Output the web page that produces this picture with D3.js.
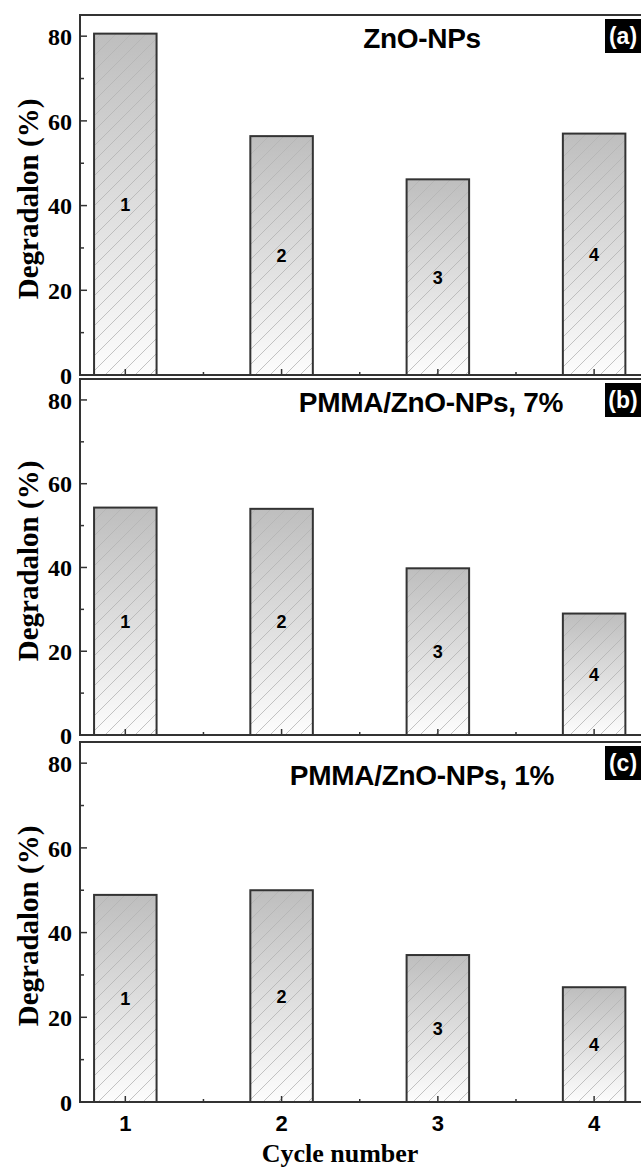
<!DOCTYPE html>
<html>
<head>
<meta charset="utf-8">
<script src="https://cdn.jsdelivr.net/npm/d3@7"></script>
<style>
  body { margin: 0; background: #fff; }
  svg { display: block; }
</style>
</head>
<body>
<svg id="chart" width="641" height="1168"></svg>
<script>
// values
const cycles = [1, 2, 3, 4];
const panelTitles = ["ZnO-NPs", "PMMA/ZnO-NPs, 7%", "PMMA/ZnO-NPs, 1%"];
const panelTags = ["(a)", "(b)", "(c)"];
const degradationA = [80.6, 56.4, 46.2, 57.0];
const degradationB = [54.3, 54.0, 39.8, 29.0];
const degradationC = [48.9, 50.0, 34.7, 27.1];
const yTicks = [0, 20, 40, 60, 80];
const yMinorTicks = [10, 30, 50, 70];
const xMinorTicks = [1.5, 2.5, 3.5];

const series = [degradationA, degradationB, degradationC];

// panel boxes (top of frame, zero line)
const panels = [
    { top: 15, bottom: 375, titleX: 422, titleY: 48 },
    { top: 379, bottom: 735, titleX: 431, titleY: 412 },
    { top: 742, bottom: 1102, titleX: 422, titleY: 785 }
];

const left = 80, right = 641;
const serif = "'Liberation Serif', 'Times New Roman', serif";
const sans = "'Liberation Sans', Arial, sans-serif";

const svg = d3.select("#chart");

const xScale = d3.scaleLinear()
    .domain([0.71, 4.3])
    .range([left, right]);

const barW = xScale(1.2) - xScale(0.8);

const defs = svg.append("defs");

const grad = defs.append("linearGradient")
    .attr("id", "barGrad")
    .attr("x1", 0).attr("y1", 0)
    .attr("x2", 0).attr("y2", 1);
grad.append("stop").attr("offset", "0%").attr("stop-color", "#bebebe");
grad.append("stop").attr("offset", "100%").attr("stop-color", "#fdfdfd");

const hatch = defs.append("pattern")
    .attr("id", "hatch")
    .attr("patternUnits", "userSpaceOnUse")
    .attr("width", 15)
    .attr("height", 15);
hatch.append("path")
    .attr("d", "M-2,17 L17,-2 M-5,5 L5,-5 M10,20 L20,10")
    .attr("stroke", "#b4b4b4")
    .attr("stroke-width", 0.8)
    .attr("fill", "none");

panels.forEach(function (p, i) {
    const data = series[i];

    const yScale = d3.scaleLinear()
        .domain([0, 85])
        .range([p.bottom, p.top]);

    const g = svg.append("g").attr("class", "panel");

    // frame
    g.append("path")
        .attr("d", "M" + right + "," + p.top + " L" + left + "," + p.top +
            " L" + left + "," + p.bottom + " L" + right + "," + p.bottom)
        .attr("fill", "none")
        .attr("stroke", "#333")
        .attr("stroke-width", 2);

    // bars
    const bars = g.selectAll(".bar")
        .data(data)
        .enter()
        .append("g")
        .attr("class", "bar");

    bars.append("rect")
        .attr("x", (d, j) => xScale(cycles[j]) - barW / 2)
        .attr("y", d => yScale(d))
        .attr("width", barW)
        .attr("height", d => yScale(0) - yScale(d))
        .attr("fill", "url(#barGrad)");

    bars.append("rect")
        .attr("x", (d, j) => xScale(cycles[j]) - barW / 2)
        .attr("y", d => yScale(d))
        .attr("width", barW)
        .attr("height", d => yScale(0) - yScale(d))
        .attr("fill", "url(#hatch)")
        .attr("stroke", "#333")
        .attr("stroke-width", 2);

    bars.append("text")
        .attr("x", (d, j) => xScale(cycles[j]))
        .attr("y", d => yScale(d / 2))
        .attr("dy", "0.36em")
        .attr("text-anchor", "middle")
        .style("font-family", sans)
        .style("font-weight", "bold")
        .style("font-size", "18px")
        .text((d, j) => cycles[j]);

    // y ticks, inward
    g.selectAll(".ymaj")
        .data(yTicks)
        .enter()
        .append("line")
        .attr("x1", left).attr("x2", left + 7)
        .attr("y1", d => yScale(d)).attr("y2", d => yScale(d))
        .attr("stroke", "#333").attr("stroke-width", 1.5);

    g.selectAll(".ymin")
        .data(yMinorTicks)
        .enter()
        .append("line")
        .attr("x1", left).attr("x2", left + 4)
        .attr("y1", d => yScale(d)).attr("y2", d => yScale(d))
        .attr("stroke", "#333").attr("stroke-width", 1.5);

    g.selectAll(".ylab")
        .data(yTicks)
        .enter()
        .append("text")
        .attr("x", left - 8)
        .attr("y", d => yScale(d))
        .attr("dy", "0.36em")
        .attr("text-anchor", "end")
        .style("font-family", serif)
        .style("font-weight", "bold")
        .style("font-size", "24px")
        .text(d => d);

    // x ticks, inward
    g.selectAll(".xmaj")
        .data(cycles)
        .enter()
        .append("line")
        .attr("x1", d => xScale(d)).attr("x2", d => xScale(d))
        .attr("y1", p.bottom).attr("y2", p.bottom - 6)
        .attr("stroke", "#333").attr("stroke-width", 1.5);

    g.selectAll(".xmin")
        .data(xMinorTicks)
        .enter()
        .append("line")
        .attr("x1", d => xScale(d)).attr("x2", d => xScale(d))
        .attr("y1", p.bottom).attr("y2", p.bottom - 3)
        .attr("stroke", "#333").attr("stroke-width", 1.5);

    // title
    g.append("text")
        .attr("x", p.titleX)
        .attr("y", p.titleY)
        .attr("text-anchor", "middle")
        .style("font-family", sans)
        .style("font-weight", "bold")
        .style("font-size", "28px")
        .style("letter-spacing", "-0.3px")
        .text(panelTitles[i]);

    // tag box
    g.append("rect")
        .attr("x", 605)
        .attr("y", p.top + 4)
        .attr("width", 36)
        .attr("height", 34)
        .attr("fill", "#000");

    g.append("text")
        .attr("x", 623)
        .attr("y", p.top + 21)
        .attr("dy", "0.36em")
        .attr("text-anchor", "middle")
        .attr("fill", "#fff")
        .style("font-family", sans)
        .style("font-weight", "bold")
        .style("font-size", "23px")
        .text(panelTags[i]);

    // y label
    const cy = (p.top + p.bottom) / 2 + 4;
    g.append("text")
        .attr("transform", "translate(38," + cy + ") rotate(-90)")
        .attr("text-anchor", "middle")
        .style("font-family", serif)
        .style("font-weight", "bold")
        .style("font-size", "29px")
        .text("Degradalon (%)");
});

// x tick labels under the last panel
svg.selectAll(".xlab")
    .data(cycles)
    .enter()
    .append("text")
    .attr("x", d => xScale(d))
    .attr("y", 1131)
    .attr("text-anchor", "middle")
    .style("font-family", sans)
    .style("font-weight", "bold")
    .style("font-size", "22px")
    .text(d => d);

svg.append("text")
    .attr("x", 340)
    .attr("y", 1162)
    .attr("text-anchor", "middle")
    .style("font-family", serif)
    .style("font-weight", "bold")
    .style("font-size", "26px")
    .text("Cycle number");
</script>
</body>
</html>
